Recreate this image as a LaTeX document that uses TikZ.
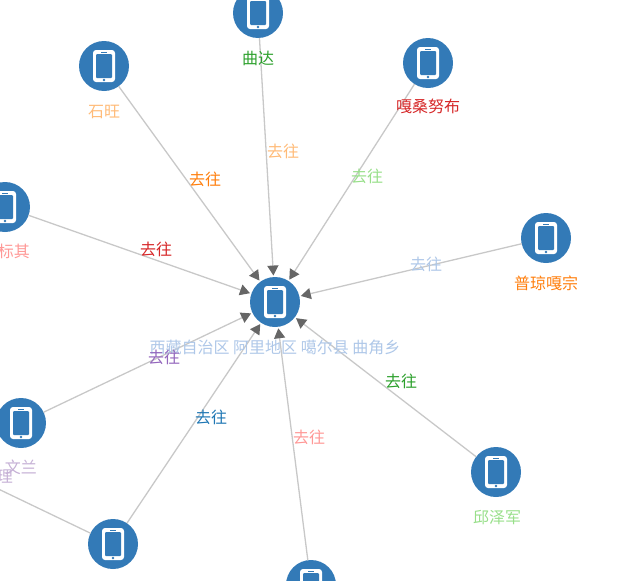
\documentclass[tikz,border=0pt]{standalone}
\usepackage{fontspec}
\setmainfont{Noto Sans CJK SC}
\usetikzlibrary{arrows.meta}
\definecolor{phoneblue}{HTML}{337AB7}
\definecolor{edgegrey}{HTML}{C8C8C8}
\definecolor{tipgrey}{HTML}{666666}
\definecolor{cOne}{HTML}{1F77B4}
\definecolor{cLightBlue}{HTML}{AEC7E8}
\definecolor{cOrange}{HTML}{FF7F0E}
\definecolor{cLightOrange}{HTML}{FFBB78}
\definecolor{cGreen}{HTML}{2CA02C}
\definecolor{cLightGreen}{HTML}{98DF8A}
\definecolor{cRed}{HTML}{D62728}
\definecolor{cPink}{HTML}{FF9896}
\definecolor{cPurple}{HTML}{9467BD}
\definecolor{cLightPurple}{HTML}{C5B0D5}
\tikzset{
  phone/.style={circle, fill=phoneblue, draw=none, minimum size=50pt, inner sep=0pt, outer sep=0pt},
  link/.style={draw=edgegrey, line width=1.3pt, shorten >=1.5pt, -{Triangle[length=10pt,width=11pt,color=tipgrey]}},
  plainlink/.style={draw=edgegrey, line width=1.3pt},
  txt/.style={font=\fontsize{16}{17}\selectfont, inner sep=0pt},
  pics/phoneicon/.style={code={
    \fill[white, rounded corners=3pt] (-11,-16) rectangle (11,16);
    \fill[phoneblue, rounded corners=1pt] (-8,-12) rectangle (8,12);
    \fill[phoneblue] (0,14) circle (1.4);
    \fill[phoneblue] (-3,-14.4) rectangle (3,-13.6);
  }}
}
\begin{document}
\begin{tikzpicture}[x=1pt,y=-1pt]
  \useasboundingbox (0,0) rectangle (624,581);
  \foreach \name/\x/\y in {hub/275/302, shiwang/104/66, quda/258/13, gasang/428/63,
      puqiong/546/238, qiuzejun/496/472, south/311/585, southwest/113/544,
      wenlan/21/423, biaoqi/5/207} {
    \node[phone] (\name) at (\x,\y) {};
    \pic at (\name) {phoneicon};
  }
  \coordinate (offleft) at (-10,485);
  \foreach \from in {shiwang, quda, gasang, puqiong, qiuzejun, south, southwest, wenlan, biaoqi}
    \draw[link] (\from) -- (hub);
  \draw[plainlink] (offleft) -- (southwest);
  % names under the phones
  \node[txt, text=cLightBlue] (hubname) at (275,347.5) {西藏自治区 阿里地区 噶尔县 曲角乡};
  \node[txt, text=cLightOrange] (shiwangname) at (104,111.5) {石旺};
  \node[txt, text=cGreen] (qudaname) at (258,58.5) {曲达};
  \node[txt, text=cRed] (gasangname) at (428,106.5) {嘎桑努布};
  \node[txt, text=cOrange] (puqiongname) at (546,283.5) {普琼嘎宗};
  \node[txt, text=cLightGreen] (qiuzejunname) at (497,517.5) {邱泽军};
  \node[txt, text=cLightPurple] (wenlanname) at (21,467.5) {文兰};
  \node[txt, text=cLightPurple] (liname) at (5,476.5) {理};
  \node[txt, text=cPink] (biaoqiname) at (14,251.5) {标其};
  % edge labels
  \foreach \x/\y/\col in {205/179.5/cOrange, 283/151.5/cLightOrange, 367/176.5/cLightGreen,
      426/264.5/cLightBlue, 401/381.5/cGreen, 309/437.5/cPink, 211/417.5/cOne,
      164/357.5/cPurple, 156/249.5/cRed}
    \node[txt, text=\col] at (\x,\y) {去往};
\end{tikzpicture}
\end{document}
